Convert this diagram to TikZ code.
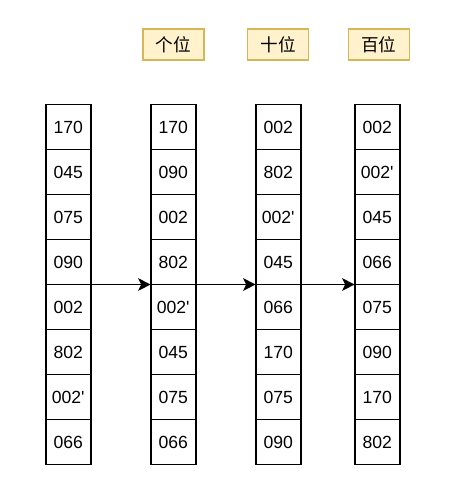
\documentclass[tikz,border=0pt]{standalone}
\usepackage{xcolor}
\usepackage{fontspec}
\setmainfont{Liberation Sans}
\newfontfamily\cjk{Noto Sans CJK SC}
\usetikzlibrary{arrows.meta}

\definecolor{tagfill}{HTML}{FFF2CC}
\definecolor{tagline}{HTML}{D6B656}

\begin{document}
\begin{tikzpicture}[
    x=1pt, y=-1pt,
    every node/.style={font=\fontsize{17.6}{20}\selectfont},
    cell/.style={draw, line width=1.6pt, minimum width=45pt, minimum height=45pt,
      inner sep=0pt, outer sep=0pt},
    tag/.style={draw=tagline, fill=tagfill, line width=1.6pt, minimum width=61pt,
      minimum height=31pt, inner sep=0pt, font=\cjk\fontsize{17.6}{20}\selectfont},
    link/.style={-{Stealth[length=12.5pt, width=12.5pt, inset=3pt]}, line width=1.6pt},
  ]
    \useasboundingbox (0, 0) rectangle (461, 496);

    \def\rowtop{127}                        % 第一行中心（单位：pt）
    \def\h{45}                              % 行高

    % 四列方格（每列：编号 / 中心 x / 数据）
    \foreach \c/\xc/\vals in {
        1/68.2/{170, 045, 075, 090, 002, 802, 002\textquotesingle, 066},
        2/173.2/{170, 090, 002, 802, 002\textquotesingle, 045, 075, 066},
        3/278.2/{002, 802, 002\textquotesingle, 045, 066, 170, 075, 090},
        4/377.2/{002, 002\textquotesingle, 045, 066, 075, 090, 170, 802}} {
      \foreach \v [count=\r] in \vals {
        \node[cell] (c\c-\r) at (\xc, {\rowtop + (\r-1)*\h}) {\v};
      }
    }

    % 上方的位标签
    \node[tag] (tagGe)  at (173.2, 44.7) {个位};
    \node[tag] (tagShi) at (278.0, 44.7) {十位};
    \node[tag] (tagBai) at (378.8, 44.7) {百位};

    % 列与列之间的箭头
    \foreach \a/\b in {1/2, 2/3, 3/4} {
      \draw[link] (c\a-4.south east) -- (c\b-4.south west);
    }
  \end{tikzpicture}
\end{document}
